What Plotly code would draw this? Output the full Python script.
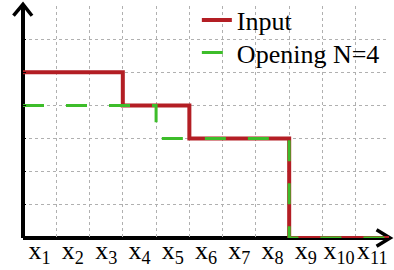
import plotly.graph_objects as go

# Data
input_x = [0, 3, 5, 8, 11]
input_y = [5, 4, 3, 0, 0]
open_x = [0, 4, 8, 11]
open_y = [4, 3, 0, 0]
tick_pos = [0.5 + i for i in range(11)]
tick_text = [f"x<sub>{i+1}</sub>" for i in range(11)]

RED = "#b31e24"
GREEN = "#3dbd2a"
FONT = "Liberation Serif, Times New Roman, serif"

fig = go.Figure()
fig.add_trace(go.Scatter(x=input_x, y=input_y, mode="lines", name="Input",
                         line=dict(color=RED, width=4, shape="hv"), cliponaxis=False,
                         legend="legend"))
fig.add_trace(go.Scatter(x=open_x, y=open_y, mode="lines", name="Opening N=4",
                         line=dict(color=GREEN, width=3, shape="hv", dash="21px,22px"),
                         cliponaxis=False, legend="legend2"))

L, R, T, B = 23, 5, 6, 32
W, H = 394, 270

leg_common = dict(xanchor="left", yanchor="top", bgcolor="rgba(0,0,0,0)",
                  font=dict(family=FONT, size=26))

fig.update_layout(
    width=W, height=H,
    margin=dict(l=L, r=R, t=T, b=B, pad=0, autoexpand=False),
    paper_bgcolor="white", plot_bgcolor="white",
    font=dict(family=FONT, size=26, color="black"),
    showlegend=True,
    legend=dict(x=0.475, y=1.04, **leg_common),
    legend2=dict(x=0.475, y=0.9, **leg_common),
    xaxis=dict(range=[0, 11], showline=False, zeroline=False, automargin=False,
               tickmode="array", tickvals=tick_pos, ticktext=tick_text,
               showgrid=False, ticks="", ticklabelstandoff=-6,
               tickfont=dict(family=FONT, size=26),
               minor=dict(tick0=0, dtick=1, showgrid=True, gridcolor="#b0b0b0",
                          griddash="dot", gridwidth=1)),
    yaxis=dict(range=[0, 7], showline=False, zeroline=False, automargin=False,
               tickmode="linear", tick0=0, dtick=1, showticklabels=False,
               showgrid=True, gridcolor="#b0b0b0", griddash="dot", gridwidth=1,
               ticks="inside", ticklen=3, tickcolor="black"),
)

# axes with arrows (paper coords)
axis_line = dict(color="black", width=4)
fig.add_shape(type="line", xref="paper", yref="paper", x0=0, y0=0, x1=0, y1=1.005,
              line=axis_line, layer="below")
fig.add_shape(type="line", xref="paper", yref="paper", x0=0, y0=0, x1=1.002, y1=0,
              line=axis_line, layer="below")
fig.add_shape(type="path", xref="paper", yref="paper",
              path="M -0.026 0.958 L 0 1.007 L 0.0246 0.958",
              line=dict(color="black", width=3.5), layer="below")
fig.add_shape(type="path", xref="paper", yref="paper",
              path="M 0.966 0.036 L 1.003 0 L 0.966 -0.036",
              line=dict(color="black", width=3.5), layer="below")

fig.write_html("out.html", config={"displayModeBar": False},
               post_script="document.body.style.margin='0';")
